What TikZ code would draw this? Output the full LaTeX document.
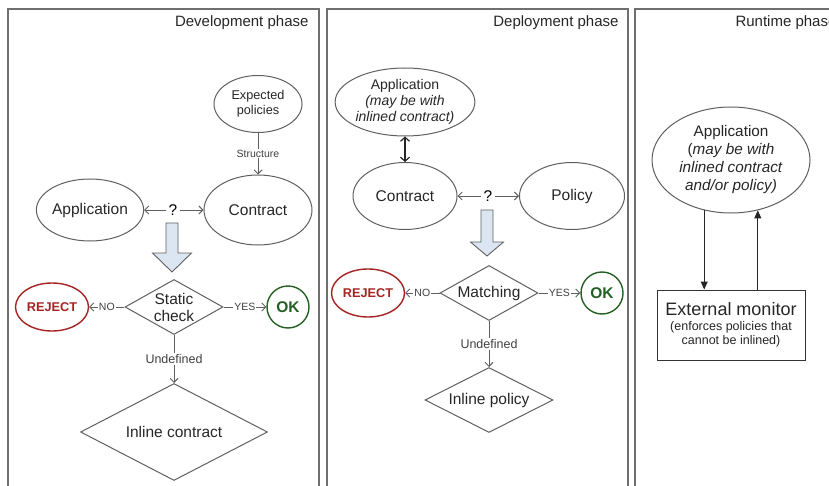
\documentclass[tikz,border=0pt]{standalone}
\usepackage{fontspec}
\setmainfont{Liberation Sans}
\usetikzlibrary{positioning,arrows.meta,shapes.geometric}
\definecolor{lineGray}{RGB}{95,95,95}
\definecolor{rejectRed}{RGB}{165,35,35}
\definecolor{okGreen}{RGB}{35,95,35}
\definecolor{passFill}{RGB}{220,230,242}

\begin{document}
\begin{tikzpicture}[x=1pt, y=-1pt,
        phase/.style={draw=lineGray!90, line width=1.2pt},
        title/.style={anchor=east, font=\fontsize{15}{17}\selectfont, text=black!85},
        ent/.style={ellipse, draw=lineGray, line width=1pt, inner sep=0pt, align=center,
                    text=black!85, font=\fontsize{15.5}{18}\selectfont},
        test/.style={diamond, draw=lineGray, line width=1pt, inner sep=0pt, align=center,
                     text=black!85, font=\fontsize{15.5}{17}\selectfont},
        reject/.style={ellipse, draw=rejectRed, line width=1.4pt, text=rejectRed, inner sep=0pt,
                       minimum width=73pt, minimum height=48pt, font=\bfseries\fontsize{12.7}{14}\selectfont},
        ok/.style={circle, draw=okGreen, line width=1.4pt, text=okGreen, inner sep=0pt,
                   minimum size=42pt, font=\bfseries\fontsize{15.5}{17}\selectfont},
        flow/.style={draw=lineGray, line width=0.9pt, -{Straight Barb[length=4pt,width=8pt]}},
        both/.style={draw=black!85, line width=1.2pt, {Straight Barb[length=4pt,width=9pt]}-{Straight Barb[length=4pt,width=9pt]}},
        call/.style={draw=black!85, line width=1pt, -{Triangle[length=8pt,width=7pt]}},
        tag/.style={fill=white, inner sep=1pt, text=black!75, font=\fontsize{10.5}{12}\selectfont},
        pass/.style={draw=lineGray, fill=passFill, line width=0.9pt, line join=miter}
    ]
        \useasboundingbox (0,0) rectangle (829,486);

        % three phase frames
        \draw[phase] (8,9) rectangle (319,500);
        \draw[phase] (327,9) rectangle (628,500);
        \draw[phase] (635,9) rectangle (850,500);
        \node[title] (devtitle) at (312,23) {Development phase};
        \node[title] (deptitle) at (622,23) {Deployment phase};
        \node[title, anchor=west] (runtitle) at (732,23) {Runtime phase};

        % development phase
        \node[ent, minimum width=88pt, minimum height=57pt, font=\fontsize{12.7}{15}\selectfont] (expected) at (258,104) {Expected\\policies};
        \node[ent, minimum width=108pt, minimum height=70pt] (contract1) at (258,210) {Contract};
        \node[ent, minimum width=106pt, minimum height=62pt] (app1) at (90,210) {Application};
        \node[font=\fontsize{15.5}{17}\selectfont, inner sep=2pt] (q1) at (173,210) {?};
        \draw[flow] (expected) -- node[tag] {Structure} (contract1);
        \draw[flow] (q1) -- (app1);
        \draw[flow] (q1) -- (contract1);
        \filldraw[pass] (166,223) -- ++(12,0) -- ++(0,30) -- ++(13.5,0) -- ++(-19.5,19)
            -- ++(-19.5,-19) -- ++(13.5,0) -- cycle;
        \node[test, shape aspect=1.8, minimum width=98pt, minimum height=55pt] (static) at (174,307) {Static\\check};
        \node[reject] (reject1) at (52,307) {REJECT};
        \node[ok] (ok1) at (288,307) {OK};
        \node[test, shape aspect=1.93, minimum width=187pt, minimum height=97pt] (inline1) at (174,432) {Inline contract};
        \draw[flow] (static) -- node[tag] {NO} (reject1);
        \draw[flow] (static) -- node[tag] {YES} (ok1);
        \draw[flow] (static) -- node[tag, font=\fontsize{12.5}{14}\selectfont] {Undefined} (inline1);

        % deployment phase
        \node[ent, minimum width=133pt, minimum height=68pt, font=\fontsize{14}{16}\selectfont] (app2) at (405,102)
            {Application\\\textit{(may be with}\\\textit{inlined contract)}};
        \node[ent, minimum width=104pt, minimum height=67pt] (contract2) at (405,196) {Contract};
        \node[ent, minimum width=105pt, minimum height=67pt] (policy2) at (572,196) {Policy};
        \node[font=\fontsize{15.5}{17}\selectfont, inner sep=2pt] (q2) at (488,196) {?};
        \draw[both] (app2) -- (contract2);
        \draw[flow] (q2) -- (contract2);
        \draw[flow] (q2) -- (policy2);
        \filldraw[pass] (481,210) -- ++(12,0) -- ++(0,32) -- ++(10.5,0) -- ++(-16.5,14)
            -- ++(-16.5,-14) -- ++(10.5,0) -- cycle;
        \node[test, shape aspect=1.8, minimum width=98pt, minimum height=55pt] (match) at (489,293) {Matching};
        \node[reject] (reject2) at (368,293) {REJECT};
        \node[ok] (ok2) at (602,293) {OK};
        \node[test, shape aspect=1.97, minimum width=128pt, minimum height=65pt] (inline2) at (489,400) {Inline policy};
        \draw[flow] (match) -- node[tag] {NO} (reject2);
        \draw[flow] (match) -- node[tag] {YES} (ok2);
        \draw[flow] (match) -- node[tag, font=\fontsize{12.5}{14}\selectfont] {Undefined} (inline2);

        % runtime phase
        \node[ent, minimum width=158pt, minimum height=106pt, font=\fontsize{15.3}{18}\selectfont] (app3) at (731,160)
            {Application\\(\textit{may be with}\\\textit{inlined contract}\\\textit{and/or policy)}};
        \node[draw=black!80, line width=1pt, minimum width=148pt, minimum height=70pt, align=center,
              inner sep=2pt, text=black!85, font=\fontsize{12.5}{14.5}\selectfont] (monitor) at (731,325)
            {{\fontsize{18}{21}\selectfont External monitor}\\(enforces policies that\\cannot be inlined)};
        \draw[call] (app3.242) -- (app3.242 |- monitor.north);
        \draw[call] (app3.298 |- monitor.north) -- (app3.298);
    \end{tikzpicture}
\end{document}
